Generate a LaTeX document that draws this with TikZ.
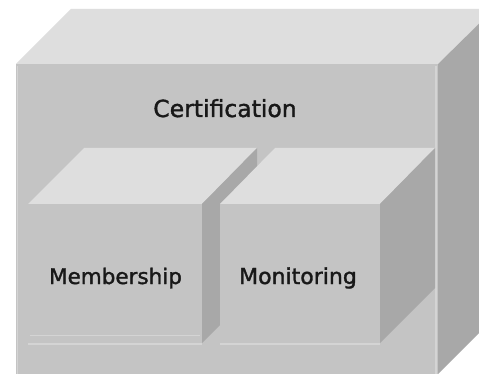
\documentclass[tikz,border=0pt]{standalone}
\usepackage{fontspec}
\setmainfont{DejaVu Sans}[FakeBold=1.5]
\newfontfamily\lblfont{DejaVu Sans}[FakeBold=1.5]
\definecolor{frontc}{RGB}{196,196,196}
\definecolor{topc}{RGB}{222,222,222}
\definecolor{sidec}{RGB}{168,168,168}
\definecolor{hilite}{RGB}{212,212,212}
\definecolor{txt}{RGB}{24,24,24}
\tikzset{
  front/.style={fill=frontc, draw=none},
  topf/.style={fill=topc, draw=none},
  sidef/.style={fill=sidec, draw=none},
  hl/.style={draw=hilite, line width=1.2pt},
  lbl/.style={anchor=base, text=txt, inner sep=0pt},
}
\begin{document}
\begin{tikzpicture}[x=1pt,y=-1pt]
\useasboundingbox (0,0) rectangle (479,374);
\fill[white] (0,0) rectangle (479,374);
% outer box
\fill[topf] (16,64) -- (71,9) -- (494,9) -- (438,64) -- cycle;
\fill[sidef] (438,64) -- (494,9) -- (494,318) -- (438,374) -- cycle;
\fill[front] (16,64) rectangle (438,374);
\draw[hl] (17.5,66) -- (17.5,374);
\draw[hl] (436,66) -- (436,374);
% Membership box
\fill[topf] (28,204) -- (84,148) -- (257,148) -- (202,204) -- cycle;
\fill[sidef] (202,204) -- (257,148) -- (257,288) -- (202,343) -- cycle;
\fill[front] (28,204) rectangle (202,343);
% Monitoring box
\fill[topf] (220,204) -- (275,148) -- (435,148) -- (380,204) -- cycle;
\fill[sidef] (380,204) -- (435,148) -- (435,288) -- (380,343) -- cycle;
\fill[front] (220,204) rectangle (380,343);
% highlights along the bottoms
\draw[hl] (28,344) -- (202,344);
\draw[hl] (220,344) -- (380,344);
\draw[draw=hilite, line width=0.6pt] (30,335) -- (200,335);
% labels
\node[lbl, font=\lblfont\fontsize{23.5}{26}\selectfont] (cert) at (225,117) {Certification};
\node[lbl, font=\lblfont\fontsize{21.5}{24}\selectfont] (memb) at (115.5,284) {Membership};
\node[lbl, font=\lblfont\fontsize{22}{24}\selectfont] (moni) at (298,284) {Monitoring};
\end{tikzpicture}
\end{document}
